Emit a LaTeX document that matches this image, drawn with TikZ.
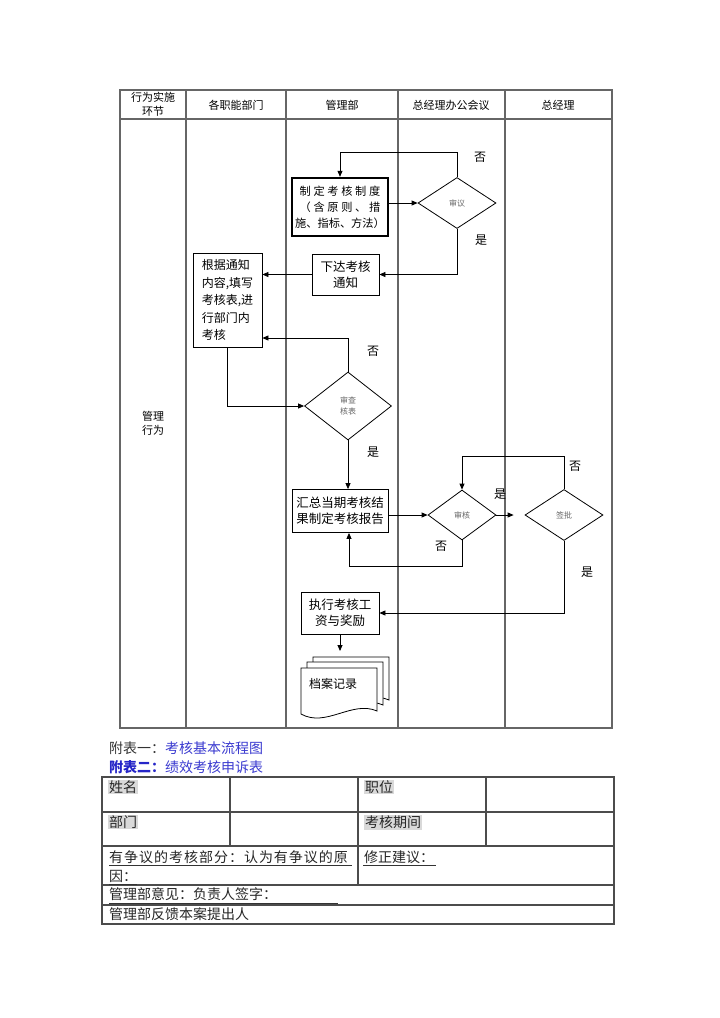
\documentclass[tikz,border=0pt]{standalone}
\usepackage{fontspec}
\setmainfont{Noto Sans CJK SC}
\usetikzlibrary{arrows.meta,shapes.geometric}
\definecolor{capblue}{HTML}{3A3AD0}
\definecolor{capblued}{HTML}{2626C8}
\begin{document}
\begin{tikzpicture}[x=1pt,y=-1pt,
  ln/.style={line width=0.8pt,draw=black},
  arr/.style={ln,-{Triangle[length=6pt,width=5pt]}},
  tbl/.style={line width=1.3pt,draw=black!60},
  tbl2/.style={line width=1.3pt,draw=black!70},
  box/.style={ln,rectangle,inner sep=0pt,align=center,fill=white,font=\fontsize{12.5}{16.5}\selectfont},
  dia/.style={ln,diamond,inner sep=0pt,align=center,fill=white,font=\fontsize{8}{11}\selectfont,text=black!60},
  lab/.style={inner sep=0pt,font=\fontsize{12}{14}\selectfont},
  hd/.style={inner sep=0pt,align=center,font=\fontsize{11}{14}\selectfont},
  cell/.style={anchor=west,inner sep=0pt,font=\fontsize{14}{17}\selectfont,text=black!85},
  hl/.style={cell,fill=black!15,inner sep=1pt},
]
\useasboundingbox (0,0) rectangle (720,1018);
\fill[white] (0,0) rectangle (720,1018);

% ---------- swimlane table ----------
\draw[tbl] (120,90) rectangle (612,728);
\draw[tbl] (120,119) -- (612,119);
\foreach \x in {186,286,398,505} \draw[tbl] (\x,90) -- (\x,728);

\node[hd] (h1) at (153,104) {行为实施\\环节};
\node[hd] (h2) at (236,105) {各职能部门};
\node[hd] (h3) at (342,105) {管理部};
\node[hd] (h4) at (451,105) {总经理办公会议};
\node[hd] (h5) at (558,105) {总经理};
\node[hd] (lt) at (153,423) {管理\\行为};

% ---------- flow nodes ----------
\node[box,line width=2.4pt,minimum width=96pt,minimum height=58pt,font=\fontsize{11.2}{16}\selectfont] (zd) at (340,207) {{\addfontfeature{LetterSpace=24}制定考核制度}\\{\addfontfeature{LetterSpace=24}（含原则、措}\\施、指标、方法）};
\node[dia,minimum width=78pt,minimum height=51pt] (sy) at (457,203) {审议};
\node[box,minimum width=67pt,minimum height=41pt] (xd) at (345.5,274.5) {下达考核\\通知};
\node[box,minimum width=69pt,minimum height=94pt,align=left,font=\fontsize{12}{17.5}\selectfont] (gj) at (227.5,300) {根据通知\\内容,填写\\考核表,进\\行部门内\\考核};
\node[dia,minimum width=87pt,minimum height=68pt] (sc) at (348,406) {审查\\核表};
\node[box,minimum width=96pt,minimum height=43pt] (hz) at (340,511) {汇总当期考核结\\果制定考核报告};
\node[dia,minimum width=68pt,minimum height=50pt] (sh) at (462,515) {审核};
\node[dia,minimum width=78pt,minimum height=51pt] (sp) at (564,515) {签批};
\node[box,minimum width=78pt,minimum height=42pt] (zx) at (340,613) {执行考核工\\资与奖励};

% ---------- document stack ----------
\filldraw[ln,fill=white] (313,657) -- (389,657) -- (389,700) .. controls (364,689) and (338,717) .. (313,703) -- cycle;
\filldraw[ln,fill=white] (307,662) -- (383,662) -- (383,705) .. controls (358,694) and (332,722) .. (307,708) -- cycle;
\filldraw[ln,fill=white] (301,668) -- (377,668) -- (377,711) .. controls (352,700) and (326,728) .. (301,714) -- cycle;
\node[anchor=west,inner sep=0pt,font=\fontsize{12}{14}\selectfont] (da) at (309,684) {档案记录};
\coordinate (dtop) at (340,651);

% ---------- connectors ----------
\coordinate (c152) at (0,152);
\coordinate (c338) at (0,338);
\coordinate (c456) at (0,456);
\coordinate (c566) at (349,566);

\draw[arr] (zd.east |- sy.west) -- (sy.west);
\draw[arr] (sy.north) -- (sy.north |- c152) -| (zd.north);
\draw[arr] (sy.south) |- (xd.east);
\draw[arr] (xd.west) -- (xd.west -| gj.east);
\draw[arr] (sc.north) |- (gj.east |- c338);
\draw[arr] (gj.south) |- (sc.west);
\draw[arr] (sc.south) -- (sc.south |- hz.north);
\draw[arr] (hz.east |- sh.west) -- (sh.west);
\draw[arr,shorten >=11pt] (sh.east) -- (sp.west);
\draw[arr] (sp.north) -- (sp.north |- c456) -| (sh.north);
\draw[arr] (sh.south) |- (c566) -- (c566 |- hz.south);
\draw[arr] (sp.south) |- (zx.east);
\draw[arr] (zx.south) -- (dtop);

% ---------- yes / no labels ----------
\node[lab] (l1) at (480,157) {否};
\node[lab] (l2) at (481,240) {是};
\node[lab] (l3) at (373,351) {否};
\node[lab] (l4) at (373,452) {是};
\node[lab] (l5) at (575,466) {否};
\node[lab] (l6) at (500,494) {是};
\node[lab] (l7) at (441,546) {否};
\node[lab] (l8) at (587,572) {是};

% ---------- captions ----------
\node[cell] (cap1) at (109,748) {\textcolor{black!80}{附表一：}\textcolor{capblue}{考核基本流程图}};
\node[cell] (cap2) at (109,767) {\textcolor{capblued}{\bfseries 附表二：}\textcolor{capblue}{绩效考核申诉表}};

% ---------- appeal table ----------
\draw[tbl2] (102,777) rectangle (614,924);
\foreach \y in {812,846,885,905} \draw[tbl2] (102,\y) -- (614,\y);
\draw[tbl2] (230,777) -- (230,846);
\draw[tbl2] (358,777) -- (358,885);
\draw[tbl2] (486,777) -- (486,846);

\node[hl] (t1) at (108,787) {姓名};
\node[hl] (t2) at (364,787) {职位};
\node[hl] (t3) at (108,822) {部门};
\node[hl] (t4) at (364,822) {考核期间};
\node[cell] (t5) at (109,857) {\addfontfeature{LetterSpace=7}有争议的考核部分：认为有争议的原};
\node[cell] (t6) at (109,876) {因：};
\node[cell] (t7) at (364,857) {修正建议：};
\node[cell] (t8) at (109,894) {管理部意见：负责人签字：};
\node[cell] (t9) at (109,914) {管理部反馈本案提出人};
\draw[line width=0.8pt,black!80] (109,865) -- (352,865);
\draw[line width=0.8pt,black!80] (109,884) -- (137,884);
\draw[line width=0.8pt,black!80] (363,865) -- (436,865);
\draw[line width=0.8pt,black!80] (109,903) -- (338,903);
\end{tikzpicture}
\end{document}
